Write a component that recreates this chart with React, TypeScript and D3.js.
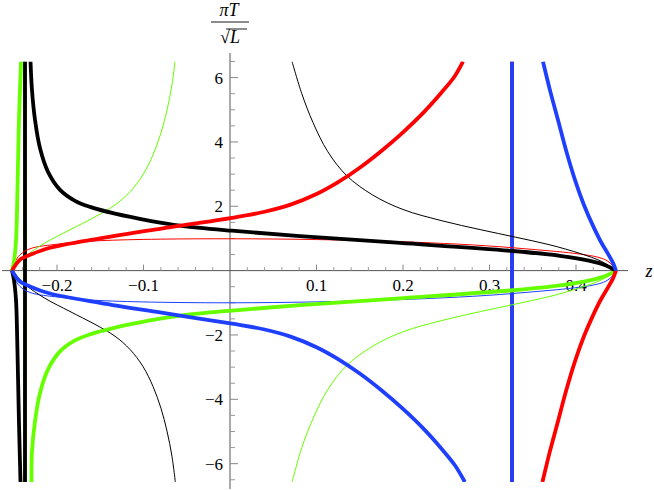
import React from "react";
import * as d3 from "d3";

// ---- data (z, πT/√L) ----
const xTicksMajor = [-0.2, -0.1, 0.1, 0.2, 0.3, 0.4];
const yTicksMajor = [-6, -4, -2, 2, 4, 6];

const blackThickUpper: [number, number][] = [
  [-0.2306, 6.5], [-0.2289, 5.6], [-0.2254, 4.68], [-0.2197, 3.81], [-0.2104, 3.07],
  [-0.1965, 2.51], [-0.1792, 2.17], [-0.1618, 1.98], [-0.1329, 1.77], [-0.0925, 1.55],
  [-0.0578, 1.4], [0.0023, 1.24], [0.0809, 1.07], [0.1965, 0.86], [0.3272, 0.61],
  [0.3815, 0.46], [0.4162, 0.3], [0.4347, 0.16], [0.4462, 0.0],
];
const greenThickLower: [number, number][] = [
  [-0.2295, -6.57], [-0.2289, -5.6], [-0.2254, -4.68], [-0.2197, -3.81], [-0.2104, -3.07],
  [-0.1965, -2.51], [-0.1792, -2.17], [-0.1618, -1.98], [-0.1329, -1.77], [-0.0925, -1.55],
  [-0.0578, -1.4], [0.0023, -1.24], [0.0809, -1.07], [0.1965, -0.86], [0.3272, -0.61],
  [0.3815, -0.46], [0.4162, -0.3], [0.4347, -0.16], [0.4462, 0.0],
];
const blackThickLowerLeft: [number, number][] = [
  [-0.252, 0], [-0.2497, -0.3], [-0.2474, -0.92], [-0.2457, -2.5], [-0.244, -4.67], [-0.2422, -6.57],
];
const greenThickUpperLeft: [number, number][] = [
  [-0.252, 0], [-0.2497, 0.3], [-0.2474, 0.92], [-0.2457, 2.5], [-0.244, 4.67], [-0.2416, 6.5],
];
const redThickUpper: [number, number][] = [
  [-0.252, 0], [-0.2486, 0.15], [-0.2428, 0.34], [-0.2312, 0.49], [-0.2081, 0.71],
  [-0.1503, 1.0], [-0.0809, 1.3], [0.0023, 1.64], [0.04, 1.83], [0.07, 2.05],
  [0.1, 2.38], [0.125, 2.75], [0.15, 3.2], [0.175, 3.72], [0.2, 4.3], [0.225, 4.95],
  [0.245, 5.55], [0.26, 6.05], [0.2694, 6.5],
];
const blueThickLower: [number, number][] = [
  [-0.252, 0], [-0.2486, -0.15], [-0.2428, -0.34], [-0.2312, -0.49], [-0.2081, -0.71],
  [-0.1503, -1.0], [-0.0809, -1.3], [0.0023, -1.65], [0.04, -1.83], [0.07, -2.05],
  [0.1, -2.38], [0.125, -2.75], [0.15, -3.2], [0.175, -3.72], [0.2, -4.3], [0.225, -4.95],
  [0.245, -5.55], [0.26, -6.05], [0.2715, -6.57],
];
const blueThickUpperRight: [number, number][] = [
  [0.4462, 0], [0.4428, 0.24], [0.437, 0.52], [0.4289, 0.89], [0.4197, 1.39],
  [0.4092, 2.04], [0.3988, 2.82], [0.3884, 3.75], [0.3792, 4.68], [0.3699, 5.61], [0.3618, 6.5],
];
const redThickLowerRight: [number, number][] = [
  [0.4462, 0], [0.4428, -0.24], [0.437, -0.52], [0.4289, -0.89], [0.4197, -1.39],
  [0.4092, -2.04], [0.3988, -2.82], [0.3884, -3.75], [0.3792, -4.68], [0.3699, -5.61], [0.3612, -6.57],
];
const blackThinUpperRight: [number, number][] = [
  [0.0717, 6.5], [0.083, 5.5], [0.096, 4.6], [0.113, 3.7], [0.135, 2.95], [0.165, 2.35],
  [0.2, 1.9], [0.245, 1.55], [0.29, 1.27], [0.33, 1.04], [0.37, 0.8], [0.405, 0.53],
  [0.43, 0.28], [0.4462, 0],
];
const greenThinLowerRight: [number, number][] = [
  [0.0717, -6.57], [0.083, -5.5], [0.096, -4.6], [0.113, -3.7], [0.135, -2.95], [0.165, -2.35],
  [0.2, -1.9], [0.245, -1.55], [0.29, -1.27], [0.33, -1.04], [0.37, -0.8], [0.405, -0.53],
  [0.43, -0.28], [0.4462, 0],
];
const greenThinUpperLeft: [number, number][] = [
  [-0.252, 0], [-0.237, 0.43], [-0.2139, 0.86], [-0.185, 1.27], [-0.1561, 1.67],
  [-0.1329, 2.04], [-0.1156, 2.45], [-0.1006, 2.98], [-0.089, 3.6], [-0.0798, 4.28],
  [-0.0728, 4.99], [-0.0671, 5.77], [-0.0636, 6.5],
];
const blackThinLowerLeft: [number, number][] = [
  [-0.252, 0], [-0.237, -0.43], [-0.2139, -0.86], [-0.185, -1.27], [-0.1561, -1.67],
  [-0.1329, -2.04], [-0.1156, -2.45], [-0.1006, -2.98], [-0.089, -3.6], [-0.0798, -4.28],
  [-0.0728, -4.99], [-0.0671, -5.77], [-0.0632, -6.57],
];
const redThin: [number, number][] = [
  [-0.252, 0], [-0.2486, 0.27], [-0.2428, 0.49], [-0.2312, 0.68], [-0.1965, 0.83],
  [-0.1503, 0.93], [0.0023, 0.99], [0.1965, 0.9], [0.3272, 0.71], [0.4277, 0.4],
  [0.4393, 0.24], [0.4462, 0],
];
const blueThin: [number, number][] = [
  [-0.252, 0], [-0.2486, -0.27], [-0.2428, -0.49], [-0.2312, -0.68], [-0.1965, -0.83],
  [-0.1503, -0.93], [0.0023, -1.0], [0.1965, -0.9], [0.3272, -0.71], [0.4277, -0.4],
  [0.4393, -0.24], [0.4462, 0],
];
const leftPole = -0.237;
const rightPole = 0.326;

const RED = "#ff0000";
const BLUE = "#1f3fff";
const GREEN = "#66ff00";
const BLACK = "#000000";

const FONT = "Liberation Serif";

export default function App() {
  const W = 654, H = 490;
  const x = d3.scaleLinear().domain([0, 0.1]).range([230, 316.5]);
  const y = d3.scaleLinear().domain([-6.57, 6.5]).range([482, 61.5]);
  const line = d3.line<[number, number]>().x(d => x(d[0])).y(d => y(d[1])).curve(d3.curveCatmullRom.alpha(0.5));

  const minorX = d3.range(-24, 45, 2).map(v => v / 100).filter(v => Math.abs(v * 10 - Math.round(v * 10)) > 1e-6);
  const minorY = d3.range(-13, 14, 1).map(v => v / 2).filter(v => v % 2 !== 0);

  const curves: { d: [number, number][]; c: string; w: number }[] = [
    { d: redThin, c: RED, w: 1 },
    { d: blueThin, c: BLUE, w: 1 },
    { d: blackThinUpperRight, c: BLACK, w: 1 },
    { d: blackThinLowerLeft, c: BLACK, w: 1 },
    { d: greenThinUpperLeft, c: GREEN, w: 1 },
    { d: greenThinLowerRight, c: GREEN, w: 1 },
    { d: greenThickLower, c: GREEN, w: 3.8 },
    { d: greenThickUpperLeft, c: GREEN, w: 3.8 },
    { d: blackThickUpper, c: BLACK, w: 3.8 },
    { d: blackThickLowerLeft, c: BLACK, w: 3.8 },
    { d: redThickUpper, c: RED, w: 3.8 },
    { d: redThickLowerRight, c: RED, w: 3.8 },
    { d: blueThickLower, c: BLUE, w: 3.8 },
    { d: blueThickUpperRight, c: BLUE, w: 3.8 },
  ];

  const x0 = x(0), y0 = y(0);

  return (
    <svg width={W} height={H} style={{ position: "absolute", left: 0, top: 0, background: "#fff", fontFamily: FONT }}>
      <defs>
        <clipPath id="plot"><rect x={0} y={y(6.5)} width={W} height={y(-6.57) - y(6.5)} /></clipPath>
      </defs>
      {/* axes */}
      <line x1={2} x2={628} y1={y0} y2={y0} stroke="#555" strokeWidth={1} />
      <line x1={x0} x2={x0} y1={53} y2={489} stroke="#555" strokeWidth={1} />
      {xTicksMajor.map(v => (
        <g key={"xt" + v}>
          <line x1={x(v)} x2={x(v)} y1={y0} y2={y0 - 6} stroke="#888" />
          <text x={x(v)} y={y0 + 20} fontSize={17} textAnchor="middle" style={{ fontFamily: FONT }}>{v < 0 ? "\u2212" + Math.abs(v).toFixed(1) : v.toFixed(1)}</text>
        </g>
      ))}
      {minorX.map(v => <line key={"xm" + v} x1={x(v)} x2={x(v)} y1={y0} y2={y0 - 3.5} stroke="#999" />)}
      {yTicksMajor.map(v => (
        <g key={"yt" + v}>
          <line x1={x0} x2={x0 + 8} y1={y(v)} y2={y(v)} stroke="#888" />
          <text x={x0 - 7} y={y(v) + 6} fontSize={17} textAnchor="end" style={{ fontFamily: FONT }}>{v < 0 ? "\u2212" + Math.abs(v) : String(v)}</text>
        </g>
      ))}
      {minorY.map(v => <line key={"ym" + v} x1={x0} x2={x0 + 5} y1={y(v)} y2={y(v)} stroke="#999" />)}
      {/* vertical asymptote lines */}
      <g clipPath="url(#plot)">
        <line x1={x(leftPole)} x2={x(leftPole)} y1={y(6.5)} y2={y(-6.57)} stroke={GREEN} strokeWidth={3.8} />
        <line x1={x(leftPole)} x2={x(leftPole)} y1={y(6.5)} y2={y(-6.57)} stroke={BLACK} strokeWidth={3.8} />
        <line x1={x(rightPole)} x2={x(rightPole)} y1={y(6.5)} y2={y(-6.57)} stroke={RED} strokeWidth={3.8} />
        <line x1={x(rightPole)} x2={x(rightPole)} y1={y(6.5)} y2={y(-6.57)} stroke={BLUE} strokeWidth={3.8} />
        {curves.map((c, i) => (
          <path key={i} d={line(c.d) || ""} fill="none" stroke={c.c} strokeWidth={c.w} strokeLinejoin="round" />
        ))}
      </g>
      {/* axis labels */}
      <text x={649} y={277} fontSize={18} fontStyle="italic" textAnchor="middle" style={{ fontFamily: FONT }}>z</text>
      <g textAnchor="middle">
        <text fontStyle="italic" fontSize={18} x={229} y={16} style={{ fontFamily: FONT }}>πT</text>
        <line x1={211} x2={249} y1={22} y2={22} stroke="#000" strokeWidth={0.9} />
        <text fontSize={18} x={230} y={43} style={{ fontFamily: FONT }}><tspan>√</tspan><tspan fontStyle="italic">L</tspan></text>
        <line x1={226} x2={247} y1={29} y2={29} stroke="#000" strokeWidth={0.9} />
      </g>
    </svg>
  );
}
